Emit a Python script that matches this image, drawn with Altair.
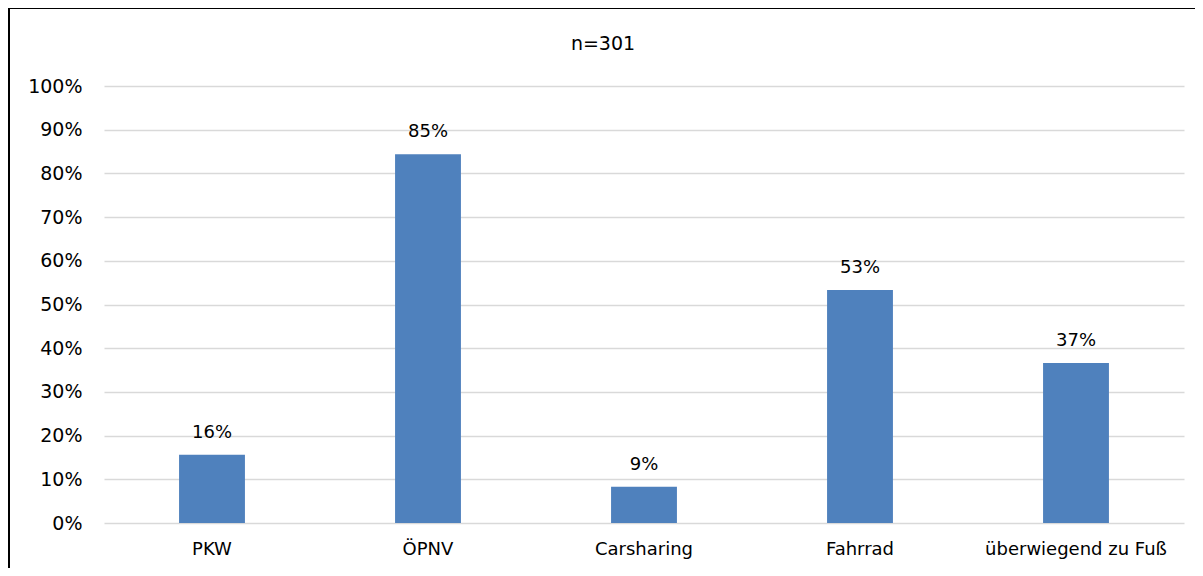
import altair as alt
import pandas as pd

categories = ["PKW", "ÖPNV", "Carsharing", "Fahrrad", "überwiegend zu Fuß"]
values = [15.6, 84.4, 8.3, 53.3, 36.6]
labels = ["16%", "85%", "9%", "53%", "37%"]
subtitle = ["n=301"]

df = pd.DataFrame({"cat": categories, "val": values, "lab": labels})
df_title = pd.DataFrame({"t": subtitle})

FONT = "DejaVu Sans"
W, H = 1080, 437

x = alt.X("cat:N", sort=categories, title=None,
          scale=alt.Scale(paddingInner=0.695, paddingOuter=0.3475),
          axis=alt.Axis(labelAngle=0, ticks=False, domain=False, labelPadding=17,
                        labelFontSize=18, labelFont=FONT, labelColor="#000000",
                        labelLimit=0, grid=False))
y = alt.Y("val:Q", title=None,
          scale=alt.Scale(domain=[0, 100], nice=False),
          axis=alt.Axis(values=list(range(0, 101, 10)), labelExpr="datum.value + '%'",
                        ticks=False, domain=False, labelPadding=22, labelFontSize=19,
                        labelFont=FONT, labelColor="#000000", grid=True,
                        gridColor="#d9d9d9", gridWidth=1.5))

bars = alt.Chart(df).mark_bar(color="#4F81BD").encode(x=x, y=y)
text = alt.Chart(df).mark_text(baseline="bottom", dy=-13, fontSize=18, font=FONT,
                               color="#000000").encode(x=alt.X("cat:N", sort=categories),
                                                       y="val:Q", text="lab:N")
frame = alt.Chart(df).mark_rect(fill=None, stroke="#000000", strokeWidth=2).encode(
    x=alt.value(-95), x2=alt.value(W + 40), y=alt.value(-78), y2=alt.value(H + 80))
title = alt.Chart(df_title).mark_text(fontSize=19, font=FONT, color="#000000",
                                      baseline="middle").encode(
    x=alt.value(W / 2 - 41), y=alt.value(-42), text="t:N")

chart = (frame + bars + text + title).properties(
    width=W, height=H,
    autosize=alt.AutoSizeParams(type="none"),
    padding={"left": 96, "top": 78, "right": 11, "bottom": 45},
).configure_view(stroke=None)

chart.save("out.html", embed_options={"renderer": "svg", "actions": False})
